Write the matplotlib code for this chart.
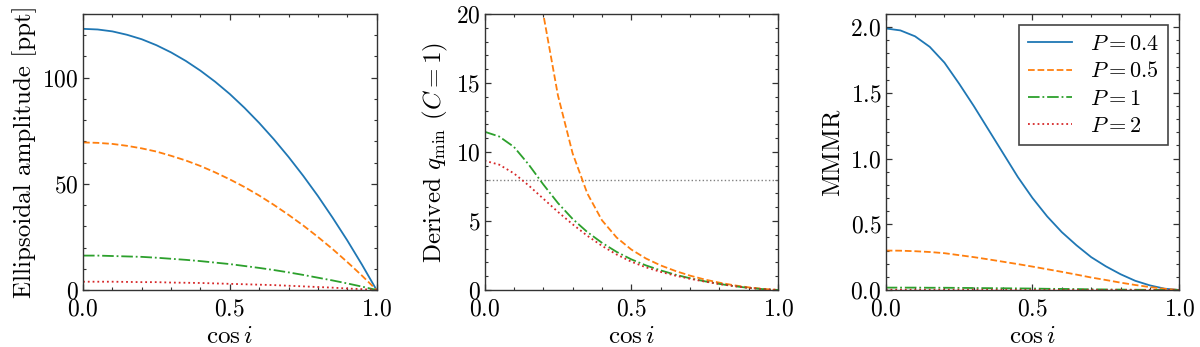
"""Ellipsoidal amplitude, derived q_min and MMMR versus cos i for four periods."""

import matplotlib

matplotlib.use("Agg")
import matplotlib.pyplot as plt
from matplotlib.ticker import MultipleLocator

plt.rcParams.update({
    "font.family": "serif",
    "font.serif": ["cmr10"],
    "mathtext.fontset": "cm",
    "axes.formatter.use_mathtext": True,
    "font.size": 16,
    "axes.unicode_minus": False,
})

# ---- data ------------------------------------------------------------------
cosi = [0.00, 0.05, 0.10, 0.15, 0.20, 0.25, 0.30, 0.35, 0.40, 0.45, 0.50,
        0.55, 0.60, 0.65, 0.70, 0.75, 0.80, 0.85, 0.90, 0.95, 1.00]
periods = ["0.4", "0.5", "1", "2"]

# ellipsoidal amplitude [ppt]
amp_p04 = [123.0, 122.7, 121.8, 120.2, 118.1, 115.3, 111.9, 107.9, 103.3, 98.1,
           92.3, 85.8, 78.7, 71.0, 62.7, 53.8, 44.3, 34.1, 23.4, 12.0, 0.0]
amp_p05 = [69.5, 69.3, 68.8, 67.9, 66.7, 65.2, 63.2, 61.0, 58.4, 55.4, 52.1,
           48.5, 44.5, 40.1, 35.4, 30.4, 25.0, 19.3, 13.2, 6.8, 0.0]
amp_p1 = [16.2, 16.2, 16.0, 15.8, 15.6, 15.2, 14.7, 14.2, 13.6, 12.9, 12.2,
          11.3, 10.4, 9.4, 8.3, 7.1, 5.8, 4.5, 3.1, 1.6, 0.0]
amp_p2 = [3.9, 3.9, 3.9, 3.8, 3.7, 3.7, 3.5, 3.4, 3.3, 3.1, 2.9,
          2.7, 2.5, 2.3, 2.0, 1.7, 1.4, 1.1, 0.7, 0.4, 0.0]

# derived q_min (C = 1); P = 0.4 lies entirely above the plotted range
cosi_q05 = cosi[3:]
qmin_p05 = [28.2, 20.0, 14.1, 9.9, 7.0, 5.05, 3.8, 2.93,
            2.28, 1.78, 1.38, 1.04, 0.76, 0.53, 0.34, 0.19, 0.08, 0.0]
qmin_p1 = [11.47, 11.12, 10.37, 9.10, 7.65, 6.30, 5.15, 4.20, 3.42, 2.76, 2.22,
           1.78, 1.42, 1.11, 0.85, 0.63, 0.44, 0.28, 0.15, 0.06, 0.0]
qmin_p2 = [9.37, 9.08, 8.45, 7.58, 6.62, 5.66, 4.76, 3.93, 3.20, 2.57, 2.05,
           1.64, 1.31, 1.04, 0.81, 0.61, 0.43, 0.28, 0.15, 0.06, 0.0]
q_limit = 8.0

# MMMR
mmmr_p04 = [1.99, 1.975, 1.93, 1.85, 1.73, 1.57, 1.40, 1.22, 1.04, 0.86, 0.70,
            0.56, 0.44, 0.34, 0.25, 0.18, 0.12, 0.07, 0.035, 0.01, 0.0]
mmmr_p05 = [0.300, 0.299, 0.295, 0.289, 0.280, 0.265, 0.250, 0.233, 0.215,
            0.197, 0.178, 0.158, 0.138, 0.117, 0.095, 0.076, 0.056, 0.038,
            0.022, 0.009, 0.0]
mmmr_p1 = [0.018, 0.018, 0.018, 0.017, 0.017, 0.016, 0.015, 0.014, 0.013,
           0.012, 0.011, 0.009, 0.008, 0.007, 0.005, 0.004, 0.003, 0.002,
           0.001, 0.0005, 0.0]
mmmr_p2 = [0.002, 0.002, 0.002, 0.002, 0.002, 0.002, 0.002, 0.002, 0.001,
           0.001, 0.001, 0.001, 0.001, 0.001, 0.001, 0.0005, 0.0005, 0.0003,
           0.0002, 0.0001, 0.0]

COLORS = ["#1f77b4", "#ff7f0e", "#2ca02c", "#d62728"]
STYLES = ["-", "--", "-.", ":"]
LW = 1.3
TICK_FS = 17
LABEL_FS = 18


def style_axes(ax, ymax, ymajor, yminor):
    ax.set_xlim(0, 1)
    ax.set_ylim(0, ymax)
    ax.xaxis.set_major_locator(MultipleLocator(0.5))
    ax.xaxis.set_minor_locator(MultipleLocator(0.1))
    ax.yaxis.set_major_locator(MultipleLocator(ymajor))
    ax.yaxis.set_minor_locator(MultipleLocator(yminor))
    ax.tick_params(which="both", direction="in", top=True, right=True,
                   colors="#333333", labelcolor="black")
    ax.tick_params(which="major", length=4.5, width=0.9, labelsize=TICK_FS)
    ax.tick_params(which="minor", length=2.5, width=0.8)
    ax.tick_params(axis="x", which="major", pad=6)
    ax.tick_params(axis="y", which="major", pad=3)
    for sp in ax.spines.values():
        sp.set_color("#333333")
        sp.set_linewidth(1.0)
    ax.set_xlabel(r"$\cos i$", fontsize=LABEL_FS, labelpad=4)


fig = plt.figure(figsize=(12.0, 3.47), dpi=100)
w, h, b = 0.2446, 0.7954, 0.1643
ax1 = fig.add_axes([0.0692, b, w, h])
ax2 = fig.add_axes([0.4038, b, w, h])
ax3 = fig.add_axes([0.7381, b, w, h])

# panel 1
for ys, c, ls in zip([amp_p04, amp_p05, amp_p1, amp_p2], COLORS, STYLES):
    ax1.plot(cosi, ys, color=c, ls=ls, lw=LW)
style_axes(ax1, 130, 50, 10)
ax1.set_ylabel("Ellipsoidal amplitude [ppt]", fontsize=LABEL_FS, labelpad=4)

# panel 2
ax2.axhline(q_limit, color="gray", ls=":", lw=1.0)
ax2.plot(cosi_q05, qmin_p05, color=COLORS[1], ls=STYLES[1], lw=LW)
ax2.plot(cosi, qmin_p1, color=COLORS[2], ls=STYLES[2], lw=LW)
ax2.plot(cosi, qmin_p2, color=COLORS[3], ls=STYLES[3], lw=LW)
style_axes(ax2, 20, 5, 1)
ax2.set_ylabel(r"Derived $q_{\rm min}$ ($C=1$)", fontsize=LABEL_FS,
               labelpad=4)

# panel 3
for ys, c, ls, p in zip([mmmr_p04, mmmr_p05, mmmr_p1, mmmr_p2], COLORS,
                        STYLES, periods):
    ax3.plot(cosi, ys, color=c, ls=ls, lw=LW, label=rf"$P={p}$")
style_axes(ax3, 2.1, 0.5, 0.1)
ax3.set_ylabel("MMMR", fontsize=LABEL_FS, labelpad=5)
leg = ax3.legend(loc="upper right", fontsize=16, frameon=True, fancybox=False,
                 framealpha=1, edgecolor="#444444", handlelength=2.0,
                 handletextpad=0.8, borderaxespad=0.5, labelspacing=0.35)
leg.get_frame().set_linewidth(1.2)

fig.savefig("out.png", dpi=100)
